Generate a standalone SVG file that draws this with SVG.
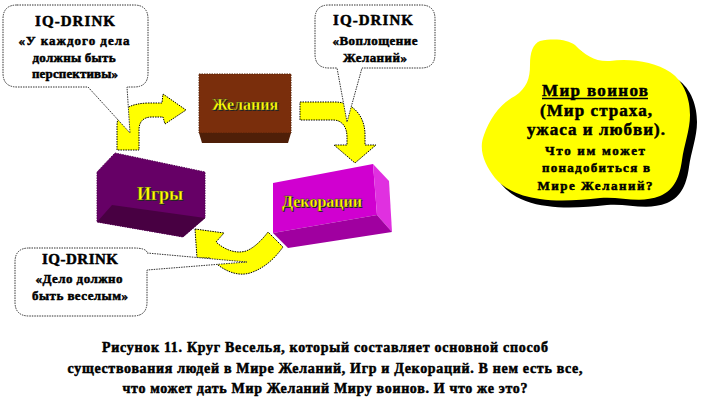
<svg xmlns="http://www.w3.org/2000/svg" width="708" height="413" viewBox="0 0 708 413">
<style>
.t{font-family:"Liberation Serif","Times New Roman",serif;font-weight:bold;text-anchor:middle}
.bt{fill:#000;stroke:#000;stroke-width:0.5}
.bub{fill:#fff;stroke:#333;stroke-width:1;stroke-dasharray:1.5 1}
.arr{fill:#ffff00;stroke:#000;stroke-width:1;stroke-dasharray:1.5 1}
.lbl{fill:#ffff00;stroke:#333;stroke-width:0.3}
.sh{fill:#222}
</style>
<rect width="708" height="413" fill="#fff"/>
<g id="connectors">
<path class="arr" d="M117,150 L117,126 C117,110 130,103 150,103 L162,103 L163,94 L186,110 L165,124 L163,117 L152,117 C143,117 139,122 139,130 L139,150 Z"/>
<path class="arr" d="M300,102 L335,102 C352,102 365,115 365,135 L365,145 L376,145 L355,163 L334,145 L347,145 L347,137 C347,127 342,120 333,120 L300,120 Z"/>
<path class="arr" d="M195,229 L224,233 L216,242 C225,250 236,254 246,251 C254,248 262,240 268,232 L283,247 C275,258 265,268 250,273 C236,277 222,270 210,258 L197,258 Z"/>
</g>
<g id="node-zhelaniya">
<rect x="199" y="74" width="92" height="59" fill="#7a2e0c" stroke="#5a2408" stroke-width="1" stroke-dasharray="1.5 1"/>
<path d="M199,133 L291,133 L288,143 L202,143 Z" fill="#4f1f08"/>
<text class="t sh" x="246" y="111" font-size="16">Желания</text>
<text class="t lbl" x="245" y="110" font-size="16">Желания</text>
</g>
<g id="node-igry">
<path d="M115,153 L205,172 L205,218 L183,237 L97,222 L97,172 Z" fill="#660066" stroke="#550055" stroke-width="1" stroke-dasharray="1.5 1"/>
<path d="M97,222 L112,205 L205,218 L183,237 Z" fill="#480042"/>
<text class="t sh" x="161" y="201" font-size="18">Игры</text>
<text class="t lbl" x="160" y="200" font-size="18">Игры</text>
</g>
<g id="node-dekoratsii">
<path d="M273,183 L373,164 L377,215 L273,233 Z" fill="#d000d0"/>
<path d="M373,164 L389,181 L392,232 L377,215 Z" fill="#e030e0"/>
<path d="M273,233 L377,215 L392,232 L288,248 Z" fill="#a000a0"/>
<text class="t sh" x="323" y="208" font-size="16">Декорации</text>
<text class="t lbl" x="322" y="207" font-size="16">Декорации</text>
</g>
<g id="node-bubble1">
<path class="bub" d="M17,5 L134,5 Q148,5 148,19 L148,73 Q148,87 134,87 L127,87 L130,133 L88,87 L17,87 Q3,87 3,73 L3,19 Q3,5 17,5 Z"/>
<text class="t bt" x="75" y="26" font-size="15" textLength="80">IQ-DRINK</text>
<text class="t bt" x="74" y="45" font-size="13" textLength="111">«У каждого дела</text>
<text class="t bt" x="74" y="62" font-size="13" textLength="83">должны быть</text>
<text class="t bt" x="75" y="78" font-size="13" textLength="86">перспективы»</text>
</g>
<g id="node-bubble2">
<path class="bub" d="M329,5 L421,5 Q435,5 435,19 L435,54 Q435,68 421,68 L362,68 L347,122 L337,68 L329,68 Q315,68 315,54 L315,19 Q315,5 329,5 Z"/>
<text class="t bt" x="373" y="25" font-size="15" textLength="80">IQ-DRINK</text>
<text class="t bt" x="375" y="45" font-size="13" textLength="85">«Воплощение</text>
<text class="t bt" x="375" y="62" font-size="13" textLength="64">Желаний»</text>
</g>
<g id="node-bubble3">
<path class="bub" d="M29,248 L133,248 Q147,248 147,253 L247,262 L147,270 L147,302 Q147,316 133,316 L29,316 Q15,316 15,302 L15,262 Q15,248 29,248 Z"/>
<text class="t bt" x="80" y="264" font-size="15" textLength="76">IQ-DRINK</text>
<text class="t bt" x="79" y="283" font-size="13" textLength="87">«Дело должно</text>
<text class="t bt" x="80" y="300" font-size="13" textLength="96">быть веселым»</text>
</g>
<g id="node-mir-voinov">
<path transform="translate(7,7)" fill="#000" d="M540,41 C555,38 568,40 575,45 C585,55 595,62 610,61 C630,58 655,62 670,72 C685,82 690,100 690,115 C690,130 684,145 682,160 C680,175 675,190 660,196 C640,204 620,196 600,198 C580,200 560,202 540,199 C522,197 505,190 495,178 C485,165 478,150 484,135 C490,118 500,104 515,96 C527,88 530,78 530,65 C530,52 533,44 540,41 Z"/>
<path fill="#ffff00" d="M540,41 C555,38 568,40 575,45 C585,55 595,62 610,61 C630,58 655,62 670,72 C685,82 690,100 690,115 C690,130 684,145 682,160 C680,175 675,190 660,196 C640,204 620,196 600,198 C580,200 560,202 540,199 C522,197 505,190 495,178 C485,165 478,150 484,135 C490,118 500,104 515,96 C527,88 530,78 530,65 C530,52 533,44 540,41 Z"/>
<text class="t bt" x="595" y="96" font-size="17" textLength="106">Мир воинов</text>
<line x1="542" y1="98.5" x2="648" y2="98.5" stroke="#000" stroke-width="1.5"/>
<text class="t bt" x="596" y="116" font-size="17" textLength="112">(Мир страха,</text>
<text class="t bt" x="596" y="135" font-size="17" textLength="138">ужаса и любви).</text>
<text class="t bt" x="595" y="155" font-size="13" textLength="100">Что им может</text>
<text class="t bt" x="596" y="172" font-size="13" textLength="108">понадобиться в</text>
<text class="t bt" x="595" y="190" font-size="13" textLength="115">Мире Желаний?</text>
</g>
<g id="caption">
<text class="t bt" x="325" y="352" font-size="14" textLength="446">Рисунок 11. Круг Веселья, который составляет основной способ</text>
<text class="t bt" x="325" y="373" font-size="14" textLength="515">существования людей в Мире Желаний, Игр и Декораций. В нем есть все,</text>
<text class="t bt" x="325" y="393" font-size="14" textLength="405">что может дать Мир Желаний Миру воинов. И что же это?</text>
</g>
</svg>
